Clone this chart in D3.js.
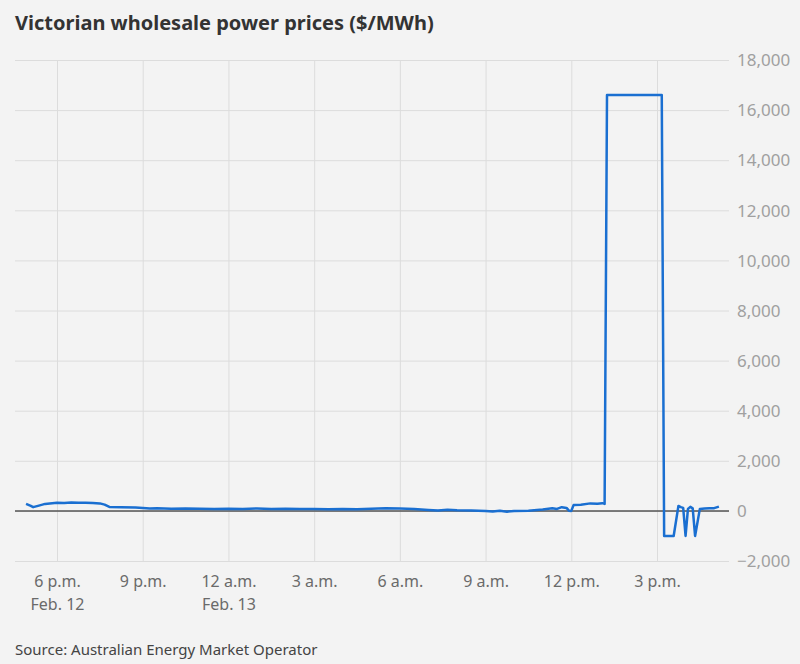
<!DOCTYPE html>
<html>
<head>
<meta charset="utf-8">
<script src="https://cdn.jsdelivr.net/npm/d3@7"></script>
<style>
  html, body { margin: 0; padding: 0; background: #f3f3f3; }
  svg { display: block; }
</style>
</head>
<body>
<svg id="chart" width="800" height="664"></svg>
<script>
// ---- DATA ----
const times = [
  "2024-02-12 16:55","2024-02-12 17:05","2024-02-12 17:10","2024-02-12 17:20","2024-02-12 17:35",
  "2024-02-12 17:50","2024-02-12 18:00","2024-02-12 18:15","2024-02-12 18:30","2024-02-12 18:45",
  "2024-02-12 19:00","2024-02-12 19:15","2024-02-12 19:30","2024-02-12 19:40","2024-02-12 19:50",
  "2024-02-12 20:15","2024-02-12 20:45","2024-02-12 21:00","2024-02-12 21:15","2024-02-12 21:30",
  "2024-02-12 22:00","2024-02-12 22:30","2024-02-12 23:00","2024-02-12 23:30",
  "2024-02-13 00:00","2024-02-13 00:30","2024-02-13 01:00","2024-02-13 01:30","2024-02-13 02:00",
  "2024-02-13 02:30","2024-02-13 03:00","2024-02-13 03:30","2024-02-13 04:00","2024-02-13 04:30",
  "2024-02-13 05:00","2024-02-13 05:30","2024-02-13 06:00","2024-02-13 06:30","2024-02-13 07:00",
  "2024-02-13 07:20","2024-02-13 07:40","2024-02-13 08:00","2024-02-13 08:30","2024-02-13 09:00",
  "2024-02-13 09:15","2024-02-13 09:30","2024-02-13 09:45","2024-02-13 10:00","2024-02-13 10:30",
  "2024-02-13 11:00","2024-02-13 11:20","2024-02-13 11:30","2024-02-13 11:40","2024-02-13 11:50",
  "2024-02-13 11:55","2024-02-13 12:00","2024-02-13 12:05","2024-02-13 12:20","2024-02-13 12:40",
  "2024-02-13 12:55","2024-02-13 13:05","2024-02-13 13:10","2024-02-13 13:15","2024-02-13 15:10",
  "2024-02-13 15:15","2024-02-13 15:35","2024-02-13 15:45","2024-02-13 15:50","2024-02-13 15:55",
  "2024-02-13 16:00","2024-02-13 16:05","2024-02-13 16:10","2024-02-13 16:15","2024-02-13 16:20",
  "2024-02-13 16:30","2024-02-13 16:40","2024-02-13 16:50","2024-02-13 17:00","2024-02-13 17:10"
];
const prices = [
  280, 200, 150, 200, 280,
  310, 330, 320, 340, 330,
  330, 320, 300, 250, 160,
  150, 140, 120, 100, 110,
  90, 100, 90, 80,
  90, 80, 100, 80, 90,
  80, 80, 70, 80, 70,
  90, 110, 100, 80, 40,
  20, 50, 30, 20, 0,
  -20, 10, -30, 0, 10,
  60, 110, 80, 150, 120,
  10, 0, 240, 250, 300,
  290, 310, 280, 16600, 16600,
  -1000, -1000, 200, 150, 120,
  -1000, 80, 160, 100, -1000,
  80, 100, 110, 110, 170
];
const xTickTimes = ["2024-02-12 18:00","2024-02-12 21:00","2024-02-13 00:00","2024-02-13 03:00",
                    "2024-02-13 06:00","2024-02-13 09:00","2024-02-13 12:00","2024-02-13 15:00"];
const xTickLabels = ["6 p.m.","9 p.m.","12 a.m.","3 a.m.","6 a.m.","9 a.m.","12 p.m.","3 p.m."];
const xTickSubLabels = ["Feb. 12","","Feb. 13","","","","",""];
const yTicks = [-2000,0,2000,4000,6000,8000,10000,12000,14000,16000,18000];

const title = "Victorian wholesale power prices ($/MWh)";
const source = "Source: Australian Energy Market Operator";

// ---- CHART ----
(function () {
const parse = d3.timeParse("%Y-%m-%d %H:%M");
const data = times.map((t, i) => ({ t: parse(t), v: prices[i] }));
const tickDates = xTickTimes.map(parse);

const svg = d3.select("#chart");
const W = 800, H = 664;
const pLeft = 15, pRight = 729, pTop = 60, pBottom = 561;

svg.append("rect").attr("width", W).attr("height", H).attr("fill", "#f3f3f3");

const x = d3.scaleTime()
  .domain([tickDates[0], tickDates[7]])
  .range([57, 657]);
const y = d3.scaleLinear().domain([-2000, 18000]).range([pBottom, pTop]);

const font = "'Noto Sans', sans-serif";

// horizontal gridlines + right labels
const yAxis = d3.axisRight(y).tickValues(yTicks).tickSize(pRight - pLeft)
  .tickFormat(d3.format(","));
const gy = svg.append("g").attr("transform", `translate(${pLeft},0)`).call(yAxis);
gy.select(".domain").remove();
gy.selectAll(".tick line").attr("stroke", "#dcdcdc").attr("stroke-width", 1);
gy.selectAll(".tick text")
  .attr("x", pRight - pLeft + 8)
  .attr("dy", "0.34em")
  .attr("fill", "#a0a0a0")
  .style("font-family", font)
  .style("font-size", "17px");

// vertical gridlines + bottom labels
const xAxis = d3.axisBottom(x).tickValues(tickDates).tickSize(pBottom - pTop)
  .tickFormat((d, i) => xTickLabels[i]);
const gx = svg.append("g").attr("transform", `translate(0,${pTop})`).call(xAxis);
gx.select(".domain").remove();
gx.selectAll(".tick line").attr("stroke", "#dcdcdc").attr("stroke-width", 1);
gx.selectAll(".tick text")
  .attr("y", pBottom - pTop + 26)
  .attr("dy", 0)
  .attr("fill", "#6a6a6a")
  .style("font-family", font)
  .style("font-size", "16px");
gx.selectAll(".tick").append("text")
  .attr("y", pBottom - pTop + 49)
  .attr("fill", "#6a6a6a")
  .attr("text-anchor", "middle")
  .style("font-family", font)
  .style("font-size", "16px")
  .text((d, i) => xTickSubLabels[i]);

// zero line
svg.append("line")
  .attr("x1", pLeft).attr("x2", pRight)
  .attr("y1", y(0)).attr("y2", y(0))
  .attr("stroke", "#555").attr("stroke-width", 1.5);

// price line
const line = d3.line().x(d => x(d.t)).y(d => y(d.v));
svg.append("path")
  .datum(data)
  .attr("d", line)
  .attr("fill", "none")
  .attr("stroke", "#1a6fd1")
  .attr("stroke-width", 2.5)
  .attr("stroke-linejoin", "round");

// title
svg.append("text")
  .attr("x", 15).attr("y", 30)
  .attr("fill", "#333")
  .style("font-family", font)
  .style("font-weight", "bold")
  .style("font-size", "20px")
  .text(title);

// source
svg.append("text")
  .attr("x", 15).attr("y", 655)
  .attr("fill", "#444")
  .style("font-family", font)
  .style("font-size", "15px")
  .text(source);
})();
</script>
</body>
</html>
